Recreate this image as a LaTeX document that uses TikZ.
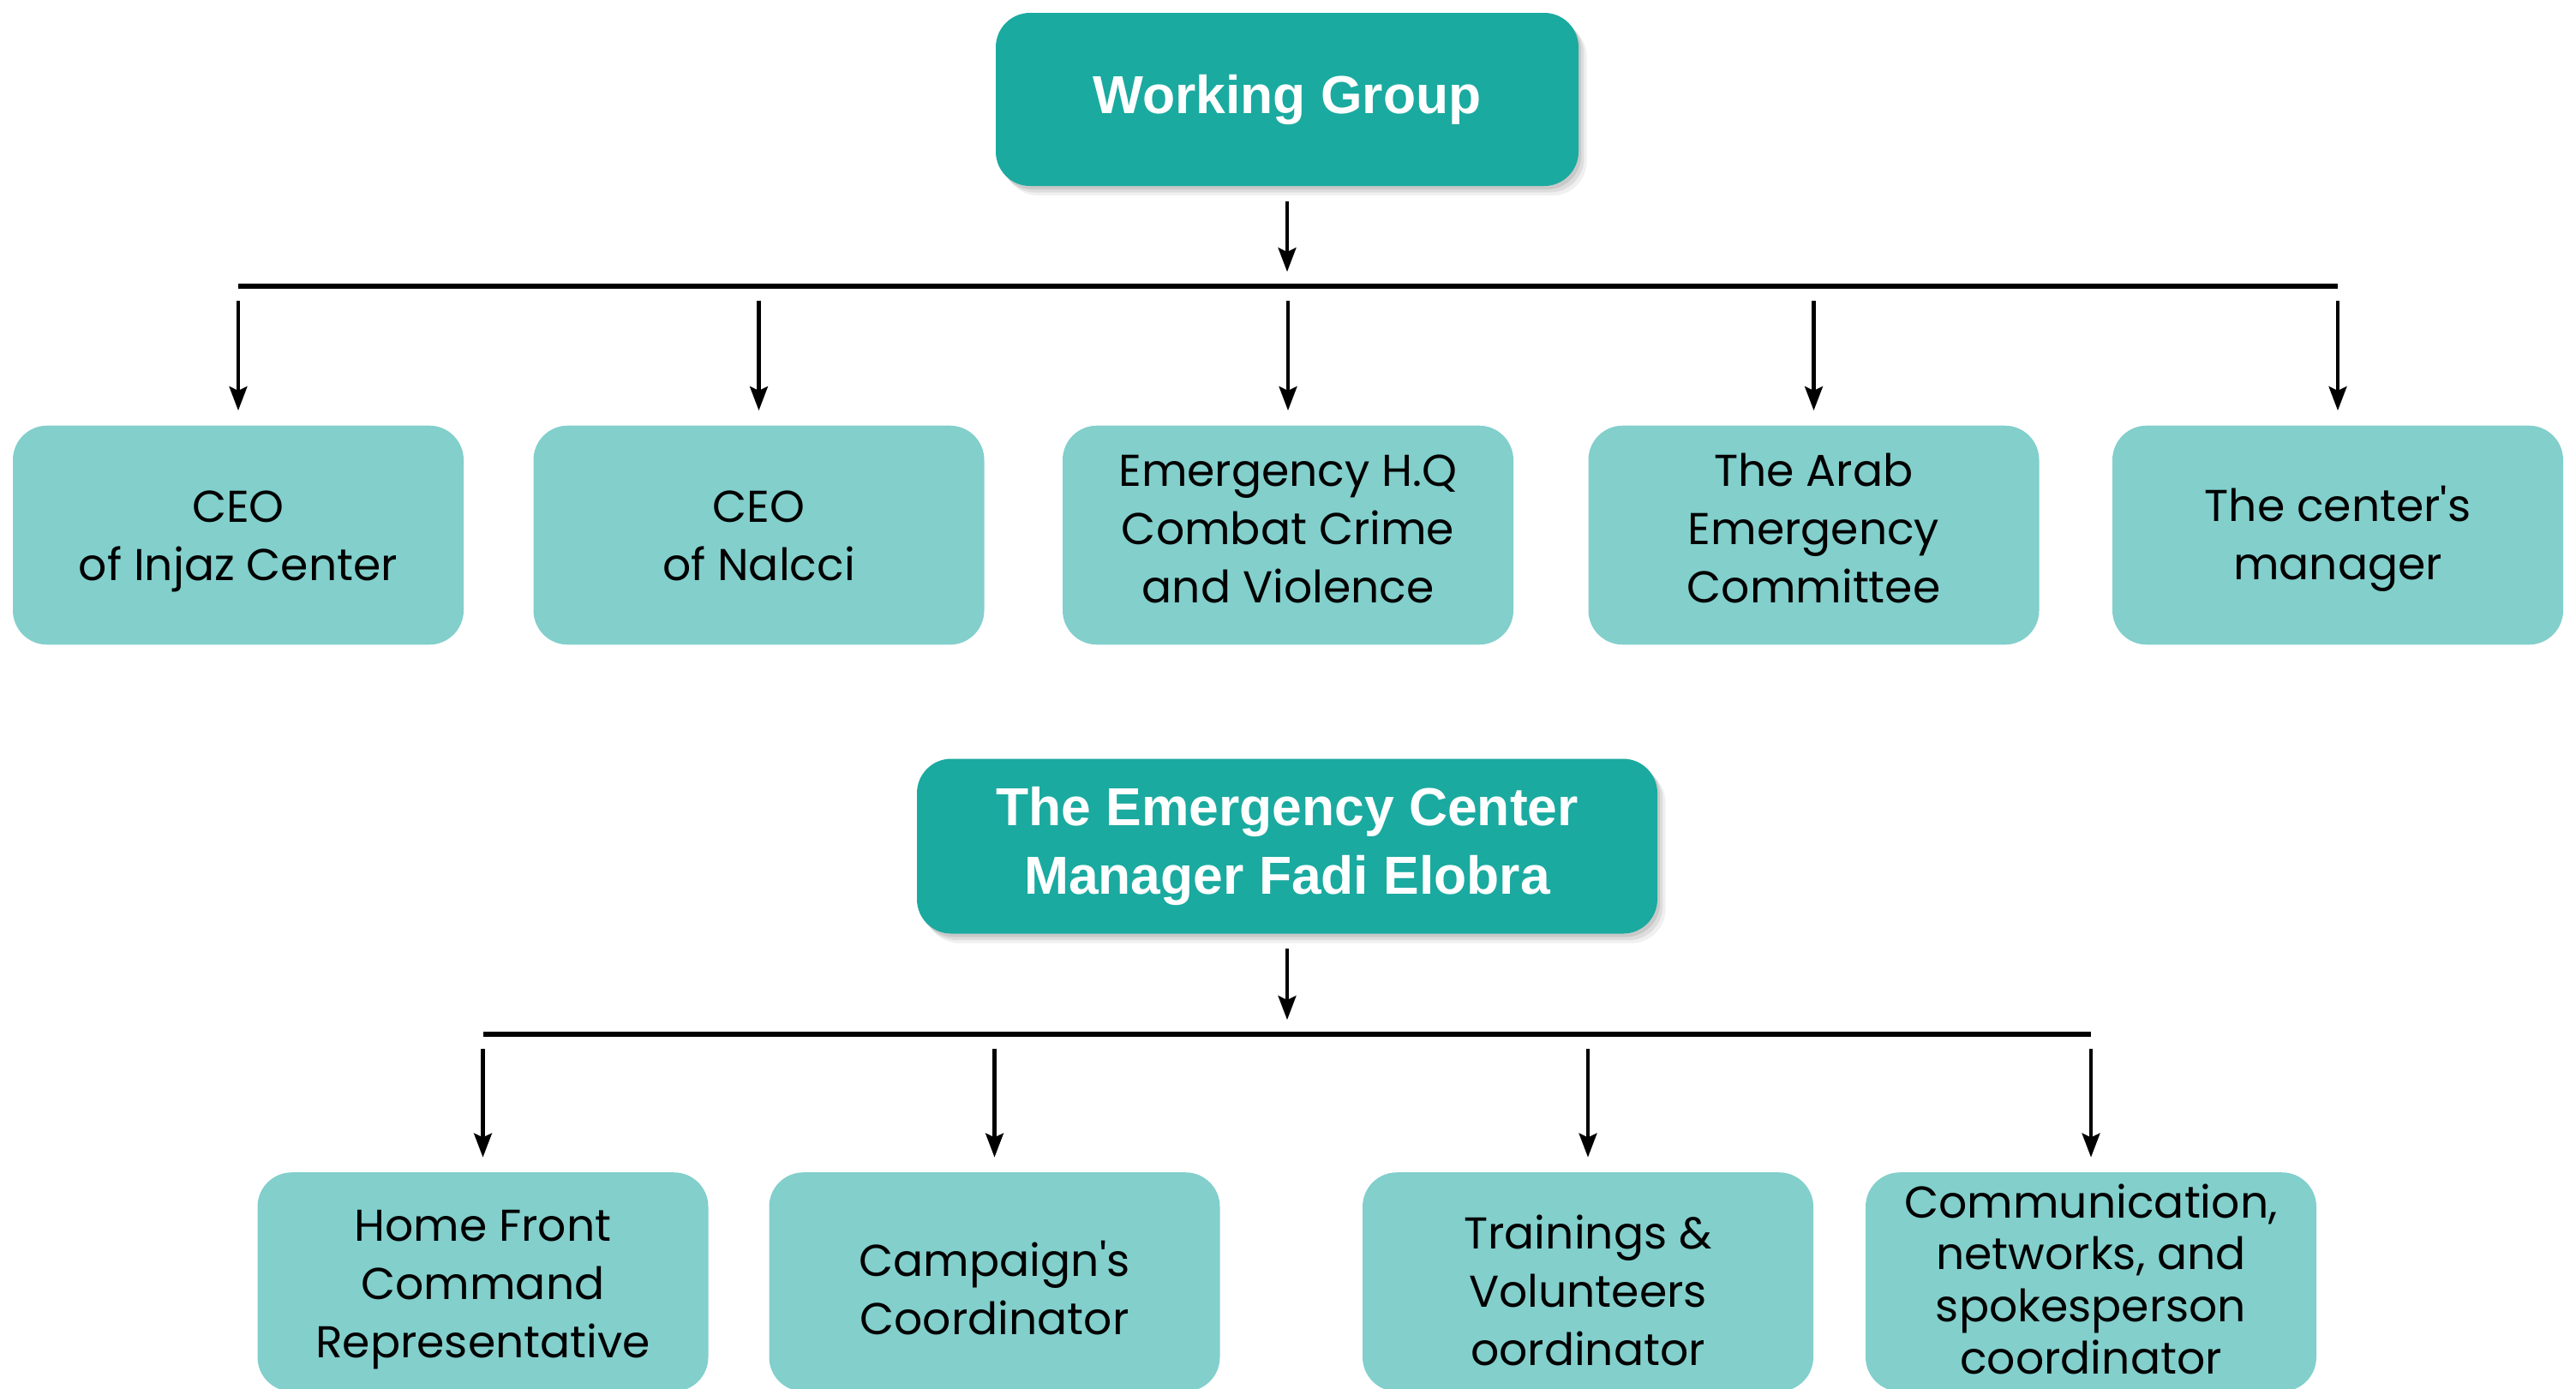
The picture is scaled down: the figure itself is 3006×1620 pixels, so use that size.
\documentclass[tikz,border=0pt]{standalone}
\usepackage{fontspec}
\setmainfont{Poppins}
\newfontfamily\titlefont{Liberation Sans}
\usetikzlibrary{arrows.meta,shadows}
\definecolor{darkteal}{HTML}{1AAAA0}
\definecolor{lightteal}{HTML}{82CFCC}
\tikzset{
  headbox/.style={fill=darkteal, rounded corners=10pt, text=white, align=center,
    font=\titlefont\bfseries\fontsize{15.6}{19.8}\selectfont, inner sep=0pt,
    drop shadow={shadow xshift=0.8pt, shadow yshift=-1.0pt, fill=black, opacity=0.09},
    drop shadow={shadow xshift=1.6pt, shadow yshift=-1.9pt, fill=black, opacity=0.08},
    drop shadow={shadow xshift=2.4pt, shadow yshift=-2.8pt, fill=black, opacity=0.06}},
  rolebox/.style={fill=lightteal, rounded corners=10pt, text=black, align=center,
    font=\fontsize{13}{17}\selectfont, inner sep=0pt, text depth=4pt,
    minimum width=131.5pt, minimum height=63.9pt},
  arr/.style={draw=black, line width=1.1pt, -{Stealth[length=7pt,width=5.2pt,inset=1.2pt]},
    shorten <=4.2pt, shorten >=4.2pt},
  busline/.style={draw=black, line width=1.5pt}
}
\begin{document}
\begin{tikzpicture}[x=0.25pt, y=-0.25pt]
\useasboundingbox (0,0) rectangle (3006,1620);
\clip (0,0) rectangle (3006,1620);
% top level
\node[headbox, minimum width=170pt, minimum height=50.5pt] (wg) at (1502,116) {Working Group};
\coordinate (b1L) at (278,334);
\coordinate (b1M) at (1502,334);
\coordinate (b1R) at (2728,334);
\node[rolebox, text height=30.7pt] (c1) at (278,624.5) {CEO\\of Injaz Center};
\node[rolebox, text height=30.7pt] (c2) at (885.5,624.5) {CEO\\of Nalcci};
\node[rolebox, text height=43.3pt] (c3) at (1503,624.5) {Emergency H.Q\\Combat Crime\\and Violence};
\node[rolebox, text height=43.3pt] (c4) at (2116.5,624.5) {The Arab\\Emergency\\Committee};
\node[rolebox, text height=29.9pt] (c5) at (2728,624.5) {The center\textquotesingle s\\manager};
\draw[arr] (wg.south) -- (b1M);
\draw[busline] (b1L) -- (b1R);
\foreach \n in {c1,c2,c3,c4,c5}
  \draw[arr] (\n.north |- b1L) -- (\n.north);
% second level
\node[headbox, minimum width=216pt, minimum height=51pt] (ec) at (1502,987.5) {The Emergency Center\\Manager Fadi Elobra};
\coordinate (b2L) at (564,1207);
\coordinate (b2M) at (1502,1207);
\coordinate (b2R) at (2440,1207);
\node[rolebox, text height=48.1pt] (d1) at (563.5,1496) {Home Front\\Command\\Representative};
\node[rolebox, text height=34.9pt] (d2) at (1160.5,1496) {Campaign\textquotesingle s\\Coordinator};
\node[rolebox, text height=52.9pt] (d3) at (1853,1496) {Trainings \&\\Volunteers\\oordinator};
\node[rolebox, text height=57.7pt, font=\fontsize{13}{15.2}\selectfont] (d4) at (2440,1496) {Communication,\\networks, and\\spokesperson\\coordinator};
\draw[arr] (ec.south) -- (b2M);
\draw[busline] (b2L) -- (b2R);
\foreach \n in {d1,d2,d3,d4}
  \draw[arr] (\n.north |- b2L) -- (\n.north);
\end{tikzpicture}
\end{document}
